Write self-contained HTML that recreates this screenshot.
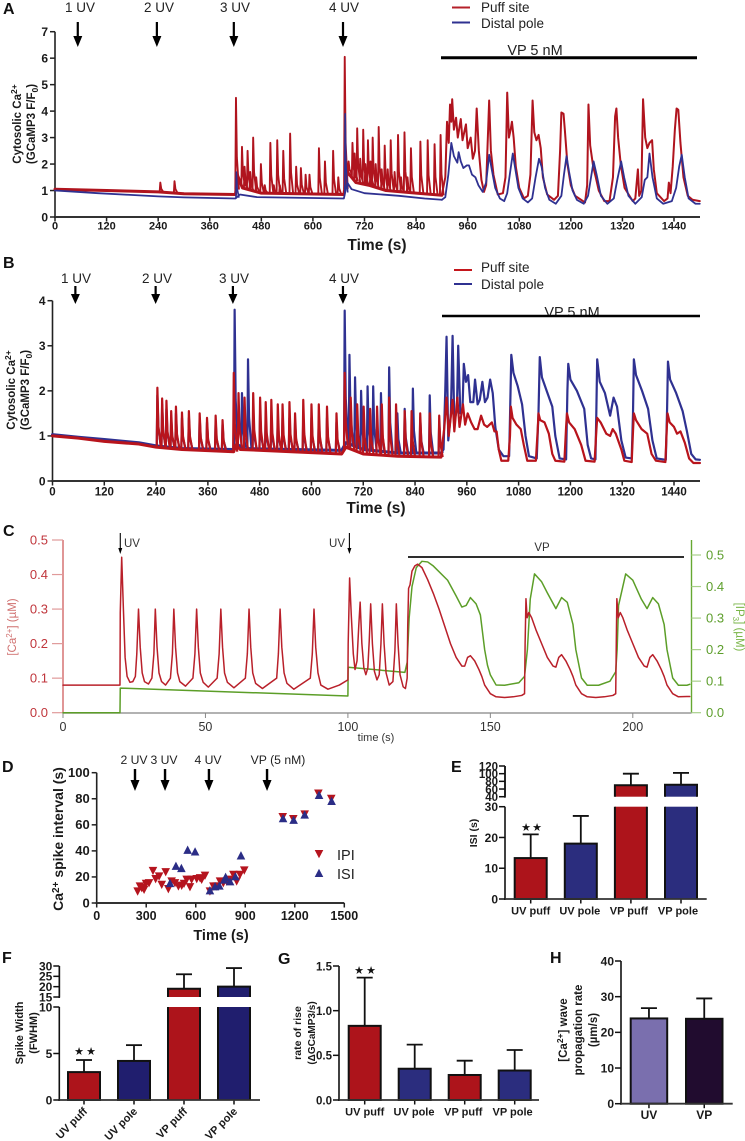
<!DOCTYPE html>
<html lang="en">
<head>
<meta charset="utf-8">
<title>Calcium signalling figure</title>
<style>
html,body{margin:0;padding:0;background:#fff;}
svg{display:block;font-family:"Liberation Sans",sans-serif;filter:blur(0.35px);}
.bt{font-weight:bold;fill:#1a1a1a;}
.letter{font-weight:bold;font-size:16px;fill:#111;}
.note{font-size:13.5px;fill:#222;}
.note-d{font-size:12.2px;fill:#222;}
.star{font-family:"DejaVu Sans",sans-serif;font-size:11px;fill:#111;}
</style>
</head>
<body>
<svg id="fig" width="745" height="1141" viewBox="0 0 745 1141" xmlns="http://www.w3.org/2000/svg">
<rect width="745" height="1141" fill="#fff"/>

<!-- Panel A static text -->
<text class="letter" x="3" y="14">A</text>
<text class="note" x="80" y="12" text-anchor="middle">1 UV</text>
<text class="note" x="159" y="12" text-anchor="middle">2 UV</text>
<text class="note" x="235" y="12" text-anchor="middle">3 UV</text>
<text class="note" x="344" y="12" text-anchor="middle">4 UV</text>
<line x1="452" x2="470" y1="7.5" y2="7.5" stroke="#b5202a" stroke-width="2"/>
<text class="note" x="481" y="12">Puff site</text>
<line x1="452" x2="470" y1="22.5" y2="22.5" stroke="#2f3191" stroke-width="2"/>
<text class="note" x="481" y="28">Distal pole</text>
<text x="535" y="55" text-anchor="middle" font-size="14.5" fill="#222">VP 5 nM</text>
<line x1="441" x2="697" y1="57.7" y2="57.7" stroke="#000" stroke-width="3"/>
<text class="bt" x="377" y="250" text-anchor="middle" font-size="15.5">Time (s)</text>
<text class="bt" transform="rotate(-90 21 124)" x="21" y="124" text-anchor="middle" font-size="11.5">Cytosolic Ca<tspan dy="-4" font-size="8.5">2+</tspan></text>
<text class="bt" transform="rotate(-90 35 124)" x="35" y="124" text-anchor="middle" font-size="11.5">(GCaMP3 F/F<tspan dy="3" font-size="8.5">0</tspan><tspan dy="-3">)</tspan></text>

<!-- Panel B static text -->
<text class="letter" x="3" y="268">B</text>
<text class="note" x="76" y="283" text-anchor="middle">1 UV</text>
<text class="note" x="157" y="283" text-anchor="middle">2 UV</text>
<text class="note" x="234" y="283" text-anchor="middle">3 UV</text>
<text class="note" x="344" y="283" text-anchor="middle">4 UV</text>
<line x1="454" x2="472" y1="270" y2="270" stroke="#c4161c" stroke-width="2"/>
<text class="note" x="481" y="272">Puff site</text>
<line x1="454" x2="472" y1="284" y2="284" stroke="#2f3191" stroke-width="2"/>
<text class="note" x="481" y="289">Distal pole</text>
<text x="572" y="317" text-anchor="middle" font-size="14.5" fill="#222">VP 5 nM</text>
<line x1="442" x2="700" y1="316" y2="316" stroke="#000" stroke-width="2.5"/>
<text class="bt" x="376" y="513" text-anchor="middle" font-size="15.5">Time (s)</text>
<text class="bt" transform="rotate(-90 15 390)" x="15" y="390" text-anchor="middle" font-size="11.5">Cytosolic Ca<tspan dy="-4" font-size="8.5">2+</tspan></text>
<text class="bt" transform="rotate(-90 29 390)" x="29" y="390" text-anchor="middle" font-size="11.5">(GCaMP3 F/F<tspan dy="3" font-size="8.5">0</tspan><tspan dy="-3">)</tspan></text>

<!-- Panel C static text -->
<text class="letter" x="3" y="536">C</text>
<text x="124" y="547" font-size="11.5" fill="#333">UV</text>
<text x="345" y="547" font-size="11.5" fill="#333" text-anchor="end">UV</text>
<text x="542" y="551" font-size="11.5" fill="#333" text-anchor="middle">VP</text>
<line x1="408" x2="684" y1="557" y2="557" stroke="#111" stroke-width="1.8"/>
<text x="376" y="741" font-size="11" fill="#333" text-anchor="middle">time (s)</text>
<text transform="rotate(-90 16 627)" x="16" y="627" font-size="11.5" fill="#d0706f" text-anchor="middle">[Ca<tspan dy="-4" font-size="8">2+</tspan><tspan dy="4">] (µM)</tspan></text>
<text transform="rotate(90 736 627)" x="736" y="627" font-size="11.5" fill="#7ab648" text-anchor="middle">[IP<tspan dy="3" font-size="8">3</tspan><tspan dy="-3">] (µM)</tspan></text>

<!-- Panel D static text -->
<text class="letter" x="2" y="772">D</text>
<text class="note-d" x="134" y="764" text-anchor="middle">2 UV</text>
<text class="note-d" x="164" y="764" text-anchor="middle">3 UV</text>
<text class="note-d" x="208" y="764" text-anchor="middle">4 UV</text>
<text class="note-d" x="278" y="764" text-anchor="middle">VP (5 nM)</text>
<text class="bt" x="221" y="940" text-anchor="middle" font-size="14.5">Time (s)</text>
<text class="bt" transform="rotate(-90 63 839)" x="63" y="839" text-anchor="middle" font-size="14">Ca<tspan dy="-4" font-size="10">2+</tspan><tspan dy="4"> spike interval (s)</tspan></text>
<text x="337" y="860" font-size="14.5" fill="#222">IPI</text>
<text x="337" y="879" font-size="14.5" fill="#222">ISI</text>

<!-- Panel E-H static text -->
<text class="letter" x="451" y="772">E</text>
<text class="bt" transform="rotate(-90 477 833)" x="477" y="833" text-anchor="middle" font-size="10.5">ISI (s)</text>
<text class="letter" x="2" y="963">F</text>
<text class="bt" transform="rotate(-90 23 1033)" x="23" y="1033" text-anchor="middle" font-size="11">Spike Width</text>
<text class="bt" transform="rotate(-90 37 1033)" x="37" y="1033" text-anchor="middle" font-size="11">(FWHM)</text>
<text class="letter" x="278" y="964">G</text>
<text class="bt" transform="rotate(-90 301 1033)" x="301" y="1033" text-anchor="middle" font-size="10.5">rate of rise</text>
<text class="bt" transform="rotate(-90 315 1033)" x="315" y="1033" text-anchor="middle" font-size="10">(ΔGCaMP3/s)</text>
<text class="letter" x="550" y="963">H</text>
<text class="bt" transform="rotate(-90 567 1030)" x="567" y="1030" text-anchor="middle" font-size="11.5">[Ca<tspan dy="-4" font-size="8.5">2+</tspan><tspan dy="4">] wave</tspan></text>
<text class="bt" transform="rotate(-90 582 1030)" x="582" y="1030" text-anchor="middle" font-size="11.5">propagation rate</text>
<text class="bt" transform="rotate(-90 597 1030)" x="597" y="1030" text-anchor="middle" font-size="11.5">(µm/s)</text>
</svg>

<script>
/* ---------- Panel A data ---------- */
const aXTicks=[0,120,240,360,480,600,720,840,960,1080,1200,1320,1440];
const aYTicks=[0,1,2,3,4,5,6,7];
const aArrowTimes=[53,237,416,670];
const aPuffBaseT=[0,120,240,300,420,424,436,480,672,680,700,730,770,840,900];
const aPuffBaseV=[1.05,1.0,0.95,0.88,0.85,1.6,1.1,0.9,0.85,1.7,1.3,1.2,1.0,0.9,0.82];
const aPuffSpikeT=[245,278,421,435,448,461,479,501,517,531,547,561,572,583,592,614,628,647,659,674,692,703,717,728,739,753,767,781,798,813,828,850,867,883,897,441,454,468,488,509,523,683,697,710,722,734,746,760,774,790,805,820];
const aPuffSpikeV=[1.3,1.35,4.5,2.65,2.5,3.0,2.0,2.8,2.9,2.5,3.15,1.9,1.85,1.6,1.6,2.6,2.1,2.5,1.5,6.05,2.8,3.35,3.3,2.9,3.0,3.4,2.7,2.9,3.1,3.2,2.6,2.85,2.9,2.75,3.1,1.9,1.7,1.5,1.2,1.2,1.2,2.1,2.4,2.2,2.0,2.1,2.0,1.8,1.8,1.7,1.5,1.5];
const aPuffWaveT=[900,908,912,916,919,922,924,928,933,937,944,948,956,960,967,972,977,981,986,992,998,1003,1010,1014,1020,1030,1042,1048,1052,1056,1060,1063,1067,1072,1080,1091,1100,1106,1111,1115,1120,1125,1130,1135,1145,1161,1170,1175,1178,1183,1186,1192,1200,1210,1233,1238,1241,1245,1252,1258,1265,1278,1290,1298,1303,1306,1310,1316,1325,1344,1350,1356,1359,1364,1368,1373,1378,1383,1389,1393,1400,1417,1425,1428,1432,1437,1442,1446,1450,1455,1462,1472,1483,1500];
const aPuffWaveV=[0.85,1.5,3.6,2.8,4.25,3.6,4.45,3.3,3.75,3,3.7,2.9,3.5,2.6,3.0,2.2,2.5,4.1,2.5,1.4,0.95,1.2,4.4,2.5,1.6,0.85,0.9,1.5,4.7,3.0,3.3,3.6,3.0,1.9,1.1,0.7,0.8,1.6,4.4,3.2,2.9,3.1,2.6,1.5,0.85,0.65,0.8,2.5,3.95,3.9,3.3,2.0,1.2,0.8,0.55,1.2,4.25,2.7,1.9,1.5,1.0,0.6,0.6,1.5,3.8,4.1,3.0,2.0,1.1,0.6,0.7,1.8,0.8,1.0,4.45,3.0,2.6,2.8,2.9,1.8,0.9,0.6,0.7,1.3,0.9,1.9,3.3,4.1,4.05,2.8,1.5,0.8,0.65,0.6];
const aPoleBaseT=[0,100,240,300,420,430,470,672,680,690,720,800,860,900];
const aPoleBaseV=[1.0,0.9,0.78,0.74,0.7,0.85,0.75,0.7,1.3,1.05,0.9,0.8,0.7,0.65];
const aPoleSpikeT=[422,675];
const aPoleSpikeV=[1.7,3.9];
const aPoleWaveT=[900,908,915,922,928,936,939,944,950,958,963,970,978,985,995,1003,1010,1016,1024,1035,1045,1052,1058,1065,1070,1078,1088,1100,1110,1118,1126,1132,1140,1150,1165,1178,1184,1190,1196,1204,1214,1230,1240,1247,1253,1260,1270,1285,1300,1308,1317,1324,1334,1350,1365,1372,1378,1383,1390,1400,1415,1435,1445,1452,1458,1465,1474,1490,1500];
const aPoleWaveV=[0.65,0.75,1.6,2.8,2.3,2.05,2.45,2.1,1.85,1.95,1.95,1.6,1.5,1.2,0.95,1.3,2.35,1.8,1.1,0.7,0.6,0.9,1.6,2.4,1.9,1.1,0.7,0.55,0.7,1.5,2.2,1.9,1.1,0.65,0.5,0.8,1.6,2.3,1.7,1.0,0.65,0.5,0.8,1.5,2.1,1.6,0.8,0.5,0.7,1.4,2.1,1.5,0.8,0.5,0.75,1.4,1.5,2.4,1.5,0.7,0.5,0.6,1.1,1.9,2.35,1.5,0.7,0.5,0.5];

/* ---------- Panel B data ---------- */
const bXTicks=[0,120,240,360,480,600,720,840,960,1080,1200,1320,1440];
const bYTicks=[0,1,2,3,4];
const bArrowTimes=[53,239,418,673];
const bPuffBaseT=[0,60,120,200,240,300,420,425,435,670,680,720,800,900];
const bPuffBaseV=[1.0,0.95,0.88,0.82,0.75,0.7,0.65,0.8,0.7,0.6,0.75,0.6,0.55,0.53];
const bPuffSpikeT=[243,254,264,275,286,300,316,341,358,378,394,420,431,445,465,481,494,507,522,533,549,562,581,600,617,636,658,677,691,706,721,736,752,763,780,796,816,832,852,874,896];
const bPuffSpikeV=[2.07,1.83,1.78,1.55,1.65,1.52,1.55,1.5,1.4,1.45,1.35,2.4,1.95,1.85,1.95,1.85,1.75,1.8,1.7,1.7,1.75,1.5,1.8,1.7,1.7,1.65,1.5,2.4,1.85,1.7,1.65,1.6,1.65,1.7,1.85,1.7,1.55,1.55,1.5,1.5,1.45];
const bPuffWaveT=[900,908,913,918,927,931,938,943,951,956,962,970,978,985,993,1000,1007,1018,1024,1029,1034,1040,1056,1060,1062,1066,1075,1085,1092,1100,1120,1124,1126,1130,1140,1150,1158,1165,1186,1190,1192,1197,1210,1225,1235,1256,1260,1262,1270,1283,1292,1298,1305,1318,1325,1342,1345,1347,1352,1365,1378,1388,1398,1420,1423,1425,1430,1440,1447,1455,1465,1475,1485,1500];
const bPuffWaveV=[0.53,1.2,1.85,1.0,1.8,1.1,1.85,1.2,1.7,1.25,1.5,1.3,1.15,1.15,1.45,1.25,1.2,1.3,1.1,1.1,0.7,0.45,0.45,1.0,1.65,1.4,1.25,1.15,0.8,0.45,0.45,1.1,1.5,1.35,1.3,1.05,0.6,0.45,0.43,1.2,1.5,1.3,1.15,0.8,0.45,0.43,1.1,1.4,1.3,1.05,1.0,1.15,1.05,0.7,0.45,0.42,1.1,1.5,1.35,1.15,1.05,0.6,0.45,0.42,1.1,1.5,1.3,1.2,1.05,1.1,0.85,0.5,0.4,0.4];
const bPoleBaseT=[0,60,120,200,240,300,420,430,445,670,680,720,800,900];
const bPoleBaseV=[1.03,0.97,0.92,0.85,0.78,0.72,0.7,0.8,0.72,0.68,0.85,0.7,0.62,0.62];
const bPoleSpikeT=[243,254,264,275,286,300,316,341,358,378,394,422,439,453,465,481,494,507,522,533,549,562,581,600,617,636,658,677,688,701,715,730,743,761,780,799,816,835,852,874,896];
const bPoleSpikeV=[1.9,1.7,1.6,1.4,1.5,1.4,1.4,1.4,1.3,1.3,1.25,3.8,1.95,2.7,1.5,1.5,1.4,1.4,1.4,1.4,1.4,1.3,1.4,1.4,1.4,1.4,1.3,3.78,2.8,2.3,2.0,2.1,2.1,1.95,2.52,1.5,1.6,2.05,1.4,1.9,1.3];
const bPoleWaveT=[900,906,910,913,917,923,927,931,937,940,945,950,953,958,963,968,975,979,985,990,996,1002,1008,1014,1020,1026,1034,1045,1058,1060,1063,1068,1078,1088,1096,1104,1122,1126,1129,1134,1145,1158,1165,1175,1190,1193,1195,1200,1215,1232,1240,1248,1258,1260,1262,1268,1280,1292,1300,1308,1318,1328,1342,1345,1347,1352,1366,1380,1390,1400,1421,1424,1426,1431,1445,1460,1470,1480,1490,1500];
const bPoleWaveV=[0.62,0.7,2,3.2,0.9,1.5,3.22,1.3,1.6,3.0,1.5,1.6,2.6,2.2,2.35,1.75,1.75,2.25,1.7,1.8,2.2,1.75,1.85,2.25,1.95,1.2,0.7,0.55,0.55,1.4,2.8,2.4,2.1,1.7,1.0,0.55,0.5,1.5,2.75,2.3,2.0,1.65,1.0,0.5,0.48,2.0,2.6,2.25,2.0,1.6,0.8,0.5,0.48,1.5,2.7,2.2,1.95,1.45,1.85,1.65,0.9,0.52,0.5,1.5,2.7,2.35,2.0,1.6,0.9,0.5,0.47,1.6,2.65,2.25,1.95,1.55,1.1,0.6,0.48,0.47];

/* ---------- Panel C data ---------- */
const cXTicks=[0,50,100,150,200];
const cLeftTicks=[0,0.1,0.2,0.3,0.4,0.5];
const cRightTicks=[0,0.1,0.2,0.3,0.4,0.5];
const cArrowTimes=[20,100];
const cCaT=[0,20,20.1,20.6,21.2,21.8,22.5,23.5,24.5,25.4,25.9,26.5,27.1,27.8,28.6,30,31.2,31.9,32.4,33,33.7,34.6,36,37.7,38.4,38.9,39.5,40.2,41,43,45.6,46.3,46.9,47.5,48.2,49.2,51,54.1,54.8,55.4,56,56.7,57.7,60,64,64.7,65.3,65.9,66.6,67.6,70,75,75.6,76.2,76.8,77.6,78.6,81,86.8,87.5,88.1,88.7,89.5,90.5,93,97,100,100.1,100.6,101.2,101.9,102.5,103.2,103.8,104.3,104.9,105.6,106.3,107,107.5,108,108.6,109.3,110.2,111,111.6,112.1,112.7,113.4,114.5,115.8,116.5,117,117.6,118.3,119.4,120.2,120.8,121,121.3,121.8,122.5,123.5,124.5,126,128,130,132,134,136,138,140,141,142,143,144.5,146,147,148,150,152,155,158,161,162,162.2,162.5,162.9,163.5,164.5,166,168,170,172,173,174,175,176.5,178,179,180,182,184,187,190,193,194,194.2,194.4,194.9,195.6,196.5,198,200,202,204,205,206,207,208.5,210,211,212,214,216,219,220];
const cCaV=[0.08,0.08,0.29,0.45,0.3,0.16,0.105,0.088,0.09,0.105,0.17,0.3,0.19,0.115,0.09,0.083,0.1,0.17,0.3,0.19,0.115,0.09,0.08,0.1,0.17,0.3,0.19,0.115,0.09,0.077,0.1,0.17,0.3,0.19,0.115,0.088,0.074,0.1,0.17,0.3,0.19,0.115,0.088,0.072,0.1,0.17,0.3,0.19,0.115,0.085,0.07,0.1,0.17,0.3,0.19,0.115,0.085,0.068,0.1,0.17,0.3,0.19,0.115,0.08,0.068,0.08,0.095,0.2,0.39,0.28,0.17,0.125,0.15,0.25,0.32,0.2,0.13,0.11,0.13,0.21,0.315,0.2,0.12,0.095,0.11,0.2,0.315,0.2,0.115,0.08,0.09,0.18,0.315,0.2,0.11,0.075,0.07,0.1,0.25,0.36,0.37,0.41,0.425,0.43,0.42,0.385,0.345,0.3,0.25,0.2,0.16,0.135,0.135,0.16,0.165,0.15,0.125,0.105,0.08,0.055,0.046,0.044,0.046,0.05,0.055,0.2,0.33,0.275,0.29,0.275,0.24,0.2,0.16,0.135,0.132,0.16,0.168,0.15,0.125,0.105,0.08,0.055,0.046,0.044,0.046,0.05,0.055,0.2,0.33,0.275,0.29,0.275,0.24,0.2,0.16,0.135,0.132,0.16,0.168,0.15,0.125,0.105,0.08,0.055,0.046,0.047,0.047];
const cIp3T=[0,20,20.1,100,100.1,120,120.8,121.5,122.5,124,126,128,130,135,138,140,141.5,143,145,146.5,148,149,150,152,155,160,162,163,164,165.5,168,170,173,175,177,179,180,182,184,188,192,194,194.5,195,197.5,200,203,205,207,209,211,212,214,216,219,220];
const cIp3V=[0,0,0.078,0.053,0.144,0.128,0.16,0.3,0.4,0.46,0.48,0.478,0.465,0.42,0.37,0.335,0.34,0.365,0.345,0.31,0.2,0.15,0.12,0.088,0.087,0.095,0.115,0.2,0.36,0.44,0.415,0.38,0.33,0.365,0.35,0.28,0.2,0.11,0.087,0.087,0.1,0.13,0.2,0.34,0.44,0.42,0.36,0.33,0.365,0.345,0.28,0.2,0.11,0.087,0.087,0.09];

/* ---------- Panel D data ---------- */
const dXTicks=[0,300,600,900,1200,1500];
const dYTicks=[0,20,40,60,80,100];
const dArrowTimes=[232,414,680,1032];
const dIpiT=[248,273,262,287,299,317,341,357,378,394,418,434,454,474,495,515,529,545,565,575,606,626,636,656,686,707,727,747,767,787,808,828,848,868,894,1127,1191,1260,1343,1421];
const dIpiV=[8.9,11.5,12.8,10.2,14.8,15.3,24.7,18.4,20.4,14,23.7,10.7,16.6,15.3,12.8,13.3,14.8,17.9,12.2,17.9,18.4,19.1,17.9,21,8.9,12.8,12.8,16.6,15.3,16.6,17.9,21.7,16.6,21.7,25,66,64.5,68,84,80];
const dIsiT=[444,480,513,551,596,686,717,743,773,781,808,840,874,1129,1193,1260,1347,1423];
const dIsiV=[15.3,28.5,26.8,40.8,39.5,9.7,12.8,13.3,17.9,20,16.6,20.4,36.5,65,63.8,67.8,82.9,78.3];

/* ---------- Bar panel data ---------- */
const eCategories=["UV puff","UV pole","VP puff","VP pole"];
const eMeans=[13.3,18,70,71];
const eErrors=[21,27,100,102];
const eLowerTicks=[0,10,20,30];
const eUpperTicks=[40,60,80,100,120];
const fCategories=["UV puff","UV pole","VP puff","VP pole"];
const fMeans=[3.0,4.2,19,20];
const fErrors=[4.3,5.9,26,29];
const fLowerTicks=[0,5,10];
const fUpperTicks=[15,20,25,30];
const gCategories=["UV puff","UV pole","VP puff","VP pole"];
const gMeans=[0.83,0.35,0.28,0.33];
const gErrors=[1.37,0.62,0.44,0.56];
const gTicks=[0,0.5,1.0,1.5];
const hCategories=["UV","VP"];
const hMeans=[23.9,23.8];
const hErrors=[26.8,29.5];
const hTicks=[0,10,20,30,40];

/* ---------- helpers ---------- */
const NS='http://www.w3.org/2000/svg';
const fig=document.getElementById('fig');
function mk(parent,tag,attrs,txt){
  const el=document.createElementNS(NS,tag);
  for(const k in attrs)el.setAttribute(k,attrs[k]);
  if(txt!==undefined)el.textContent=txt;
  parent.appendChild(el);
  return el;
}
function group(name){
  const g=mk(fig,'g',{});
  
  
  return g;
}
function linear(d0,d1,r0,r1){return v=>r0+(v-d0)*(r1-r0)/(d1-d0);}
function interp(ts,vs,t){
  if(t<=ts[0])return vs[0];
  for(let i=1;i<ts.length;i++){
    if(t<=ts[i])return vs[i-1]+(vs[i]-vs[i-1])*(t-ts[i-1])/(ts[i]-ts[i-1]);
  }
  return vs[vs.length-1];
}
function line(g,ts,vs,xf,yf,color,w,name){
  let pts='';
  for(let i=0;i<ts.length&&i<vs.length;i++)pts+=xf(ts[i]).toFixed(2)+','+yf(vs[i]).toFixed(2)+' ';
  const el=mk(g,'polyline',{points:pts,fill:'none',stroke:color,'stroke-width':w,'stroke-linejoin':'round','stroke-linecap':'round'});
  
  
  return el;
}
function spikes(g,sT,sV,bT,bV,xf,yf,color,w,rise,fall,name){
  let d='';
  for(let i=0;i<sT.length&&i<sV.length;i++){
    const t=sT[i],p=sV[i],b=interp(bT,bV,t);
    d+='M'+xf(t-rise).toFixed(2)+' '+yf(b).toFixed(2)+'L'+xf(t).toFixed(2)+' '+yf(p).toFixed(2)+'L'+xf(t+fall*0.3).toFixed(2)+' '+yf(b+(p-b)*0.35).toFixed(2)+'L'+xf(t+fall).toFixed(2)+' '+yf(b).toFixed(2);
  }
  const el=mk(g,'path',{d:d,fill:'none',stroke:color,'stroke-width':w,'stroke-linejoin':'round'});
  
  
}
function arrow(g,x,y0,y1,sw,hw,hh){
  const el=mk(g,'path',{d:'M'+(x-sw/2)+' '+y0+'H'+(x+sw/2)+'V'+(y1-hh)+'H'+(x+hw/2)+'L'+x+' '+y1+'L'+(x-hw/2)+' '+(y1-hh)+'H'+(x-sw/2)+'Z',fill:'#000'});
  
  
}
function axes(g,o){
  const yAxis=mk(g,'line',{x1:o.x0,x2:o.x0,y1:o.yTop,y2:o.y0+1,stroke:o.c||'#222','stroke-width':o.w||1.6});
  
  
  const xAxis=mk(g,'line',{x1:o.x0-1,x2:o.x1,y1:o.y0,y2:o.y0,stroke:o.c||'#333','stroke-width':o.w||2});
  
  
  o.yTicks.forEach(v=>{
    const t=mk(g,'line',{x1:o.x0-5,x2:o.x0,y1:o.yf(v),y2:o.yf(v),stroke:'#222','stroke-width':1.5});
    
    
    const l=mk(g,'text',{x:o.x0-7,y:o.yf(v)+4.3,'text-anchor':'end','font-size':o.fs||12,class:'bt'},String(v));
    
    
  });
  o.xTicks.forEach(v=>{
    const t=mk(g,'line',{x1:o.xf(v),x2:o.xf(v),y1:o.y0,y2:o.y0+4.5,stroke:'#222','stroke-width':1.5});
    
    
    const l=mk(g,'text',{x:o.xf(v),y:o.y0+o.lab,'text-anchor':'middle','font-size':o.fs2||11,class:'bt'},String(v));
    
    
  });
}

/* ---------- Panel A ---------- */
(function(){
  const g=group('panel-a-chart');
  const xf=linear(0,1440,55,674),yf=linear(0,7,217,31.7);
  axes(g,{x0:55,x1:700,y0:217,yTop:31.7,xf,yf,xTicks:aXTicks,yTicks:aYTicks,lab:12.5});
  const puff='#b0141e',pole='#2f3191';
  line(g,aPuffBaseT,aPuffBaseV,xf,yf,puff,3,'a-puff-baseline');
  spikes(g,aPuffSpikeT,aPuffSpikeV,aPuffBaseT,aPuffBaseV,xf,yf,puff,1.9,1.5,7,'a-puff-spikes');
  line(g,aPuffWaveT,aPuffWaveV,xf,yf,puff,2,'a-puff-vp-trace');
  line(g,aPoleBaseT,aPoleBaseV,xf,yf,pole,1.8,'a-pole-baseline');
  spikes(g,aPoleSpikeT,aPoleSpikeV,aPoleBaseT,aPoleBaseV,xf,yf,pole,1.6,1,6,'a-pole-spikes');
  line(g,aPoleWaveT,aPoleWaveV,xf,yf,pole,1.8,'a-pole-vp-trace');
  aArrowTimes.forEach(t=>arrow(g,xf(t),22,47,2.2,9,11));
})();

/* ---------- Panel B ---------- */
(function(){
  const g=group('panel-b-chart');
  const xf=linear(0,1440,52.5,674),yf=linear(0,4,481,300.7);
  axes(g,{x0:52.5,x1:700,y0:481,yTop:300.7,xf,yf,xTicks:bXTicks,yTicks:bYTicks,lab:14.5,fs2:11.5});
  const puff='#b8141c',pole='#2f3191';
  line(g,bPoleBaseT,bPoleBaseV,xf,yf,pole,3,'b-pole-baseline');
  spikes(g,bPoleSpikeT,bPoleSpikeV,bPoleBaseT,bPoleBaseV,xf,yf,pole,2.2,1.5,8,'b-pole-spikes');
  line(g,bPoleWaveT,bPoleWaveV,xf,yf,pole,2.2,'b-pole-vp-trace');
  line(g,bPuffBaseT,bPuffBaseV,xf,yf,puff,3,'b-puff-baseline');
  spikes(g,bPuffSpikeT,bPuffSpikeV,bPuffBaseT,bPuffBaseV,xf,yf,puff,2.2,1.5,8,'b-puff-spikes');
  line(g,bPuffWaveT,bPuffWaveV,xf,yf,puff,2.2,'b-puff-vp-trace');
  bArrowTimes.forEach(t=>arrow(g,xf(t),286,304,2.2,9,10));
})();

/* ---------- Panel C ---------- */
(function(){
  const g=group('panel-c-chart');
  const xf=linear(0,200,63,632.8),yL=linear(0,0.5,712.7,540),yR=linear(0,0.5,712.7,555);
  const lc='#d2696a',rc='#66a832';
  const la=mk(g,'line',{x1:63,x2:63,y1:540,y2:713,stroke:lc,'stroke-width':1.4});
  
  
  const ra=mk(g,'line',{x1:691.5,x2:691.5,y1:540,y2:713,stroke:rc,'stroke-width':1.4});
  
  
  const ba=mk(g,'line',{x1:63,x2:691.5,y1:713,y2:713,stroke:'#999','stroke-width':1.4});
  
  
  cLeftTicks.forEach(v=>{
    const t=mk(g,'line',{x1:52,x2:63,y1:yL(v),y2:yL(v),stroke:'#e09a9a','stroke-width':1.2});
    
    
    const l=mk(g,'text',{x:48,y:yL(v)+4.5,'text-anchor':'end','font-size':13,fill:'#c0363c'},v.toFixed(1));
    
    
  });
  cRightTicks.forEach(v=>{
    const t=mk(g,'line',{x1:691.5,x2:701,y1:yR(v),y2:yR(v),stroke:'#a8cf8a','stroke-width':1.2});
    
    
    const l=mk(g,'text',{x:706,y:yR(v)+4.5,'font-size':13,fill:'#5d9e2c'},v.toFixed(1));
    
    
  });
  cXTicks.forEach(v=>{
    const t=mk(g,'line',{x1:xf(v),x2:xf(v),y1:713,y2:718,stroke:'#888','stroke-width':1});
    
    
    const l=mk(g,'text',{x:xf(v),y:731,'text-anchor':'middle','font-size':12.5,fill:'#333'},String(v));
    
    
  });
  line(g,cIp3T,cIp3V,xf,yR,'#5c9e28',1.5,'c-ip3-trace');
  line(g,cCaT,cCaV,xf,yL,'#b9202a',1.5,'c-calcium-trace');
  cArrowTimes.forEach(t=>arrow(g,xf(t)+(t===100?1.5:0.3),533,554,1.1,4,6));
})();

/* ---------- Panel D ---------- */
(function(){
  const g=group('panel-d-chart');
  const xf=linear(0,1500,96.7,344.3),yf=linear(0,100,903,772.7);
  axes(g,{x0:96.7,x1:344.3,y0:903,yTop:772.7,xf,yf,xTicks:dXTicks,yTicks:dYTicks,lab:17,fs:13,fs2:12.5});
  function tri(x,y,down,color,name){
    const s=down?1:-1;
    const el=mk(g,'polygon',{points:(x-4.3)+','+(y-4*s)+' '+(x+4.3)+','+(y-4*s)+' '+x+','+(y+4.3*s),fill:color});
    
    
  }
  dIpiT.forEach((t,i)=>tri(xf(t),yf(dIpiV[i]),true,'#b5141e','ipi-point'));
  dIsiT.forEach((t,i)=>tri(xf(t),yf(dIsiV[i]),false,'#2b2d86','isi-point'));
  tri(319,854,true,'#b5141e','legend-ipi-marker');
  tri(319,873,false,'#2b2d86','legend-isi-marker');
  dArrowTimes.forEach(t=>arrow(g,xf(t),769,791,2.4,9,11));
})();

/* ---------- bar panels ---------- */
function barPanel(o){
  const g=group(o.name);
  const black='#111';
  function seg(x1,y1,x2,y2,w,name){
    const el=mk(g,'line',{x1:x1,y1:y1,x2:x2,y2:y2,stroke:black,'stroke-width':w});
    
    
  }
  o.cats.forEach((c,i)=>{
    const x=o.left+i*o.step,w=o.bw,m=o.means[i],e=o.errs[i],col=o.colors[i];
    const cx=x+w/2;
    seg(cx,o.yf(m),cx,o.yf(e),1.8,'error-bar');
    seg(cx-8,o.yf(e),cx+8,o.yf(e),1.8,'error-cap');
    if(o.upper&&m>o.upper.lo){
      const top=o.yf(m),brk=o.upper.yBreak;
      const r=mk(g,'rect',{x:x,y:top,width:w,height:brk-top,fill:col});
      
      
      const p=mk(g,'path',{d:'M'+x+' '+brk+'V'+top+'H'+(x+w)+'V'+brk,fill:'none',stroke:black,'stroke-width':2});
      
      
      const lowTop=o.upper.yLowTop,base=o.y0;
      const r2=mk(g,'rect',{x:x,y:lowTop,width:w,height:base-lowTop,fill:col});
      
      
      const p2=mk(g,'path',{d:'M'+x+' '+lowTop+'V'+base+'M'+(x+w)+' '+lowTop+'V'+base,fill:'none',stroke:black,'stroke-width':2});
      
      
    }else{
      const r=mk(g,'rect',{x:x,y:o.yf(m),width:w,height:o.y0-o.yf(m),fill:col,stroke:black,'stroke-width':2});
      
      
    }
    seg(cx,o.y0,cx,o.y0+4.5,1.5,'category-tick');
    if(o.rotate){
      const tx=cx+4,ty=o.y0+12;
      const l=mk(g,'text',{x:tx,y:ty,'text-anchor':'end','font-size':11,class:'bt',transform:'rotate(-45 '+tx+' '+ty+')'},c);
      
      
    }else{
      const l=mk(g,'text',{x:cx-o.labShift*i+o.labOff,y:o.y0+o.labY,'text-anchor':'middle','font-size':o.labFs||11,class:'bt'},c);
      
      
    }
  });
  seg(o.x0,o.yLowAxisTop,o.x0,o.y0+1,1.6,'y-axis');
  if(o.upper)seg(o.x0,o.upper.yAxisTop,o.x0,o.upper.yBreak,1.6,'y-axis-upper');
  const base=mk(g,'line',{x1:o.x0-1,x2:o.x1,y1:o.y0,y2:o.y0,stroke:'#333','stroke-width':1.8});
  
  
  o.ticks.forEach(v=>{
    seg(o.x0-6,o.yf(v),o.x0,o.yf(v),1.5,'y-tick');
    const l=mk(g,'text',{x:o.x0-7,y:o.yf(v)+4.3,'text-anchor':'end','font-size':o.tickFs||12,class:'bt'},o.fmt?v.toFixed(1):String(v));
    
    
  });
  (o.stars||[]).forEach(s=>{
    const l=mk(g,'text',{x:s[0],y:s[1],'text-anchor':'middle',class:'star'},'★');
    
    
  });
}
function broken(loMax,yLo0,yLoTop,hiMin,hiMax,yHiMin,yHiMax){
  return v=>v<=loMax?linear(0,loMax,yLo0,yLoTop)(v):linear(hiMin,hiMax,yHiMin,yHiMax)(v);
}
const RED='#ad141b',BLUE='#2b2d7e',NAVY='#201e6e';
barPanel({name:'panel-e-chart',cats:eCategories,means:eMeans,errs:eErrors,colors:[RED,BLUE,RED,BLUE],left:514.7,step:50.1,bw:32,x0:505,x1:706.7,y0:899,
  yLowAxisTop:806.7,yf:broken(30,899,806.7,40,120,796.7,766),ticks:eLowerTicks,tickFs:12,
  upper:{lo:30,yBreak:796.7,yLowTop:806.7,yAxisTop:766},labOff:0,labShift:1,labY:15.5,stars:[[526,831],[537,831]]});
barPanel({name:'panel-e-upper-axis',cats:[],means:[],errs:[],colors:[],left:0,step:0,bw:0,x0:505,x1:505,y0:796.7,yLowAxisTop:766,
  yf:linear(40,120,796.7,766),ticks:eUpperTicks,tickFs:11.5});
barPanel({name:'panel-f-chart',cats:fCategories,means:fMeans,errs:fErrors,colors:[RED,NAVY,RED,NAVY],left:68,step:50,bw:32,x0:59.3,x1:260,y0:1100,
  yLowAxisTop:1007,yf:broken(10,1100,1007,15,30,997,966),ticks:fLowerTicks,
  upper:{lo:10,yBreak:997,yLowTop:1007,yAxisTop:966},rotate:true,stars:[[79,1055],[91,1055]]});
barPanel({name:'panel-f-upper-axis',cats:[],means:[],errs:[],colors:[],left:0,step:0,bw:0,x0:59.3,x1:59.3,y0:997,yLowAxisTop:966,
  yf:linear(15,30,997,966),ticks:fUpperTicks});
barPanel({name:'panel-g-chart',cats:gCategories,means:gMeans,errs:gErrors,colors:[RED,BLUE,RED,BLUE],left:348.7,step:50,bw:32,x0:339,x1:539,y0:1100,
  yLowAxisTop:966,yf:linear(0,1.5,1100,966),ticks:gTicks,tickFs:11.5,fmt:true,labOff:0,labShift:0.7,labY:15.5,stars:[[359,974],[371,974]]});
barPanel({name:'panel-h-chart',cats:hCategories,means:hMeans,errs:hErrors,colors:['#7a6fae','#210c2f'],left:630.7,step:55.3,bw:36.5,x0:621,x1:732.7,y0:1103.7,
  yLowAxisTop:961,yf:linear(0,40,1103.7,961),ticks:hTicks,labOff:0,labShift:0,labY:15.5,labFs:12});
</script>
</body>
</html>
